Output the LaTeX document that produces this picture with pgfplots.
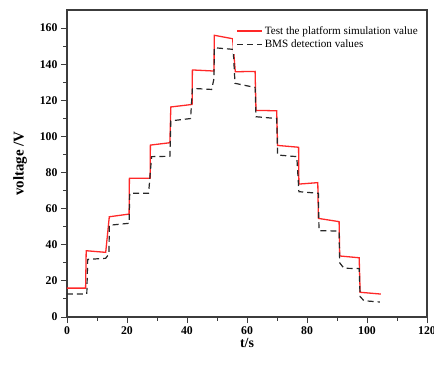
\documentclass[border=0pt]{standalone}
\usepackage{fontspec}
\setmainfont{Liberation Serif}
\usepackage{pgfplots}
\pgfplotsset{compat=1.18}
\definecolor{simred}{RGB}{255,40,40}
\definecolor{bmsgray}{RGB}{40,40,40}
\definecolor{framegray}{RGB}{60,60,60}
\pgfplotsset{
  redlegend/.style={legend image code/.code={\draw[simred, line width=1.3pt] (0bp,0bp) -- (25bp,0bp);}},
  blacklegend/.style={legend image code/.code={\draw[bmsgray, line width=1.2pt, dash pattern=on 6bp off 4bp] (0bp,0bp) -- (25bp,0bp);}},
}
\begin{document}
\begin{tikzpicture}
\begin{axis}[
  at={(0,0)}, anchor=south west,
  scale only axis, width=360bp, height=307bp,
  xmin=0, xmax=120, ymin=0, ymax=170,
  xtick={0,20,...,120}, ytick={0,20,...,160},
  minor x tick num=1, minor y tick num=1,
  tick align=outside, tick pos=left,
  major tick length=6bp, minor tick length=3.5bp,
  axis line style={framegray, line width=1.1pt},
  every tick/.style={framegray, line width=0.9pt},
  /pgf/number format/assume math mode=true,
  ticklabel style={font=\fontsize{11.8}{13}\selectfont\bfseries},
  xlabel={t/s}, ylabel={voltage /V},
  xlabel style={font=\fontsize{14}{16}\selectfont\bfseries, at={(axis description cs:0.5,-0.085)}, anchor=center},
  ylabel style={font=\fontsize{15}{17}\selectfont\bfseries, at={(axis description cs:-0.1306,0.5)}, anchor=center},
  legend style={at={(0.462,0.96)}, anchor=north west, draw=white, fill=white,
    font=\fontsize{11.2}{13}\selectfont},
  legend cell align=left,
]
\addplot[draw=simred, line width=1.3pt, redlegend] coordinates {
(0,16) (6.2,16) (6.4,36.7) (12.9,35.8) (14.1,55.5) (20.7,57) (20.8,76.8) (27.7,76.8)
(27.8,95.2) (34.3,96.5) (34.6,116.3) (41.7,117.7) (41.8,136.8) (49,136.2) (49.1,156)
(55.2,154.1) (56.1,135.8) (62.7,136) (63,114.4) (69.9,114.2) (70.2,95) (77.2,94)
(77.3,73.6) (83.6,74.4) (83.8,54.6) (90.7,52.8) (90.9,33.8) (97.4,32.8) (97.7,13.7)
(104.6,12.7)
};
\addlegendentry{Test the platform simulation value}
\addplot[draw=bmsgray, line width=1.2pt, dash pattern=on 6bp off 4bp, blacklegend] coordinates {
(0,12.7) (6.6,12.7) (6.9,31.9) (12.9,32.5) (14,35) (14.1,50.8) (20.7,51.9) (20.9,68.5)
(27.2,68.5) (28.2,88.8) (34.3,89) (34.6,108.6) (41.2,109.9) (41.8,126.6) (48.2,126)
(49,132) (49.1,149.1) (55.4,148.2) (56,129.4) (62.7,127.1) (63,110.9) (69.9,109.9)
(70.2,89.7) (76.6,88.8) (77.3,69.4) (83.8,68.5) (84,47.8) (90.7,47.6) (90.9,30)
(92.3,27) (97.4,26.8) (97.7,11.3) (99,9) (104.3,8.3)
};
\addlegendentry{BMS detection values}
\end{axis}
\pgfresetboundingbox
\path[use as bounding box] (-67bp,-48bp) rectangle (367bp,317bp);
\end{tikzpicture}
\end{document}
